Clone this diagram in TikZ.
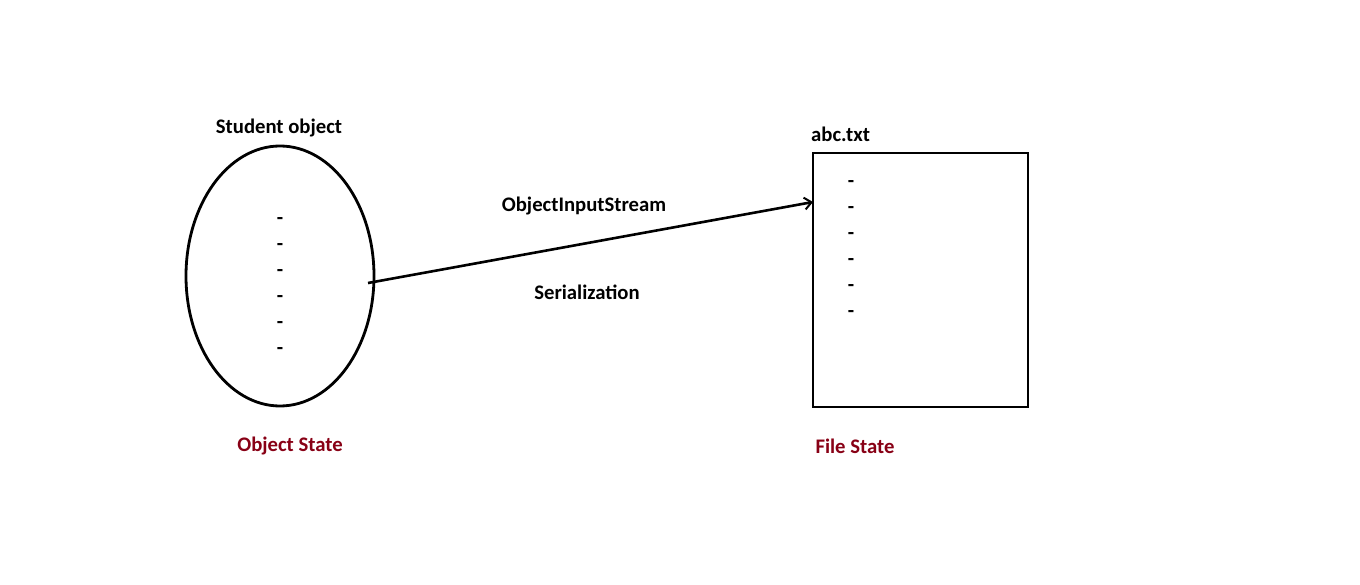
\documentclass[tikz,border=0pt]{standalone}
\usepackage{fontspec}
\setmainfont{Carlito}
\usetikzlibrary{arrows.meta,shapes.geometric}
\definecolor{darkred}{RGB}{136,0,21}
\tikzset{
  lbl/.style={font=\bfseries\fontsize{20.7}{22}\selectfont, inner sep=0pt, yshift=-1pt},
  redlbl/.style={lbl, text=darkred},
  shapeline/.style={line width=2.8pt}
}
\begin{document}
\begin{tikzpicture}[x=1pt,y=-1pt]
\useasboundingbox (0,0) rectangle (1360,585);
\node[shapeline, draw, ellipse, minimum width=188pt, minimum height=260pt, inner sep=0pt] (obj) at (280,276) {};
\node[shapeline, draw, rectangle, minimum width=215pt, minimum height=254pt, inner sep=0pt] (file) at (920.5,280) {};
\node[lbl] (studlbl) at (279,127) {Student object};
\node[lbl, anchor=west] (abclbl) at (811,133) {abc.txt};
\foreach \i/\y in {1/218,2/244,3/270,4/296,5/322,6/348} {
  \node[lbl, yshift=-2pt] (od\i) at (280,\y) {-};
}
\foreach \i/\y in {1/181,2/207,3/233,4/259,5/285,6/311} {
  \node[lbl, yshift=-2pt] (fd\i) at (851,\y) {-};
}
\coordinate (start) at (368,283);
\coordinate (end) at (813,202);
\draw[line width=2.6pt, -{Straight Barb[length=7pt,width=12pt,line width=2pt]}] (start) -- (end);
\node[lbl] (ois) at (584,205) {ObjectInputStream};
\node[lbl] (ser) at (587,291) {Serialization};
\node[redlbl] (os) at (290,445) {Object State};
\node[redlbl] (fs) at (855,445) {File State};
\end{tikzpicture}
\end{document}
